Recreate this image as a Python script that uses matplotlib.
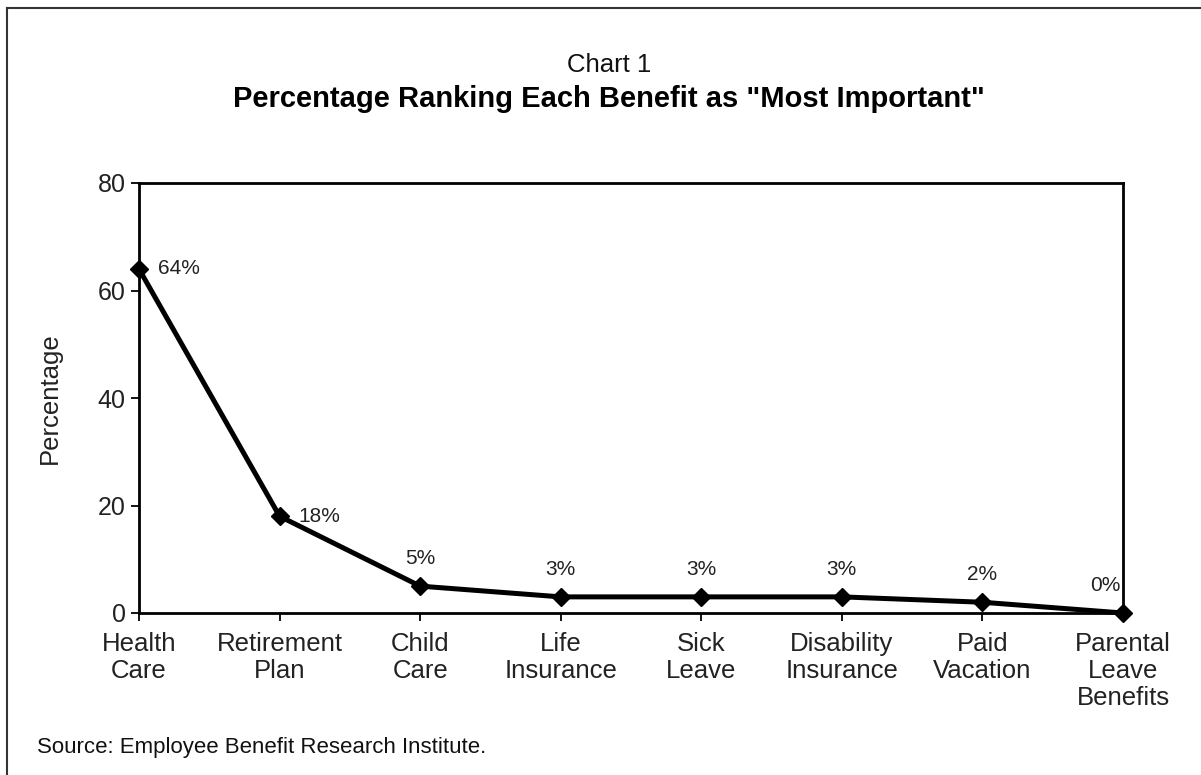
import matplotlib.pyplot as plt
from matplotlib.lines import Line2D

plt.rcParams['font.family'] = ['Liberation Sans', 'DejaVu Sans']

benefits = ['Health\nCare', 'Retirement\nPlan', 'Child\nCare', 'Life\nInsurance',
            'Sick\nLeave', 'Disability\nInsurance', 'Paid\nVacation',
            'Parental\nLeave\nBenefits']
percent = [64, 18, 5, 3, 3, 3, 2, 0]
yticks = [0, 20, 40, 60, 80]

fig = plt.figure(figsize=(12.01, 7.75), dpi=100)
ax = fig.add_axes([139 / 1201, 162 / 775, 984 / 1201, 430 / 775])

x = list(range(len(benefits)))
ax.plot(x, percent, color='black', lw=3.6, marker='D', markersize=9.5,
        clip_on=False, zorder=5)

# value labels
for i, v in enumerate(percent):
    if i < 2:
        ax.annotate(f'{v}%', (i, v), xytext=(13.5, 0), textcoords='offset points',
                    ha='left', va='center', fontsize=15, color='#222222')
    elif i == len(percent) - 1:
        ax.annotate(f'{v}%', (i, v), xytext=(-2, 13), textcoords='offset points',
                    ha='right', va='bottom', fontsize=15, color='#222222')
    else:
        ax.annotate(f'{v}%', (i, v), xytext=(0, 13), textcoords='offset points',
                    ha='center', va='bottom', fontsize=15, color='#222222')

ax.set_xlim(0, len(benefits) - 1)
ax.set_ylim(0, 80)
ax.set_yticks(yticks)
ax.set_xticks(x)
ax.set_xticklabels(benefits, fontsize=18.5, color='#222222', linespacing=1.15)
ax.tick_params(axis='y', labelsize=18, labelcolor='#222222', length=6, width=1.3, pad=3.5)
ax.tick_params(axis='x', length=6, width=1.3, pad=8)
ax.set_ylabel('Percentage', fontsize=18.5, color='#222222', labelpad=26)
for s in ax.spines.values():
    s.set_linewidth(2)

fig.text(609 / 1201, 1 - 65 / 775, 'Chart 1', ha='center', va='center',
         fontsize=18.5, color='#111111')
fig.text(609 / 1201, 1 - 99 / 775, 'Percentage Ranking Each Benefit as "Most Important"',
         ha='center', va='center', fontsize=21, fontweight='bold')
fig.text(37 / 1201, 1 - 747 / 775, 'Source: Employee Benefit Research Institute.',
         ha='left', va='center', fontsize=16, color='#111111')

# outer frame (only top and left visible)
fig.add_artist(Line2D([7 / 1201, 7 / 1201], [0, 1 - 8 / 775], color='#333333', lw=1.5))
fig.add_artist(Line2D([7 / 1201, 1], [1 - 8 / 775, 1 - 8 / 775], color='#333333', lw=1.5))

fig.savefig('out.png', dpi=100)
